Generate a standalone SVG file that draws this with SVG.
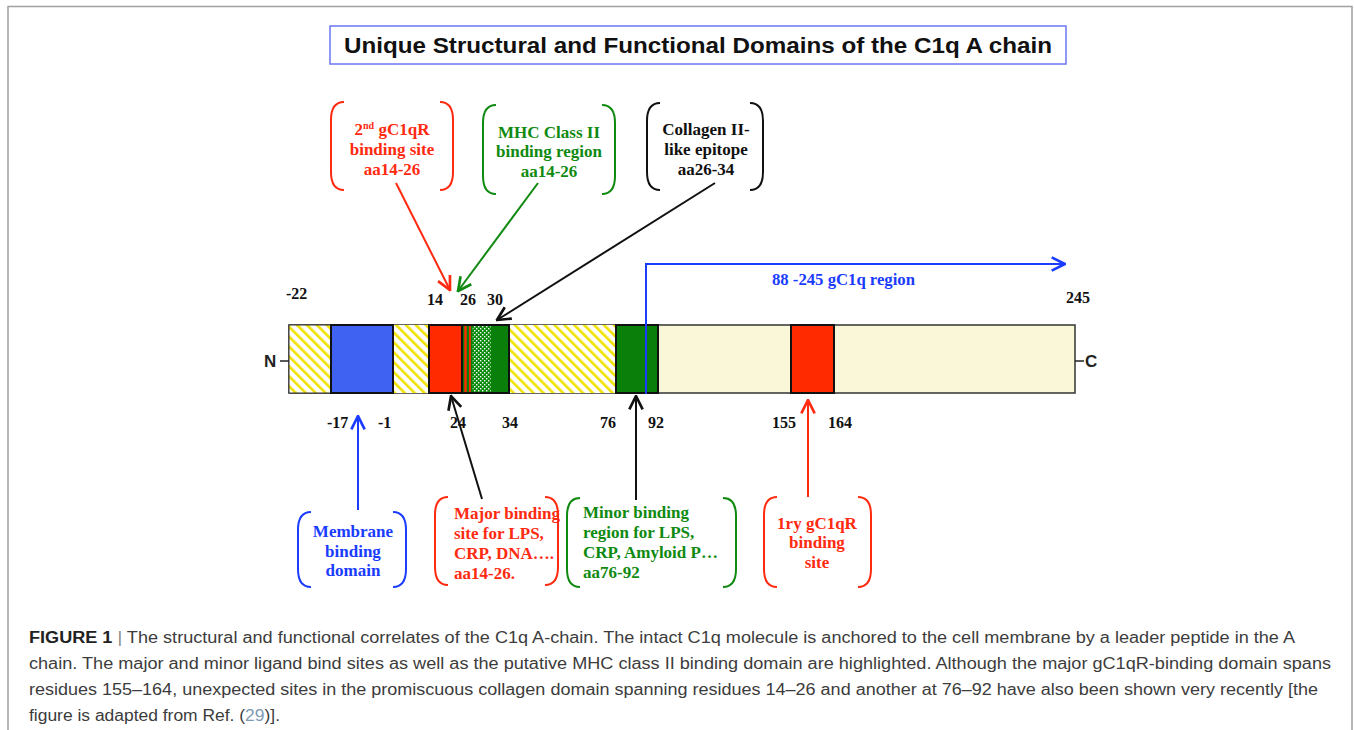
<svg xmlns="http://www.w3.org/2000/svg" width="1354" height="730" viewBox="0 0 1354 730">
<style>
.lbl{font-family:"Liberation Serif","Times New Roman",serif;font-weight:bold;font-size:17px}
.num{font-family:"Liberation Serif","Times New Roman",serif;font-weight:bold;font-size:16px;fill:#111}
.brk{fill:none;stroke-width:2}
.seg{stroke:#111;stroke-width:2}
.cap{font-family:"Liberation Sans",Arial,sans-serif;font-size:16px;fill:#3c3c3c}
.conn{fill:none;stroke-width:2}
</style>
<defs>
<pattern id="hatch" patternUnits="userSpaceOnUse" width="7" height="7" patternTransform="rotate(-45)">
<rect width="7" height="7" fill="#ffffff"/>
<rect width="2.6" height="7" fill="#f2e200"/>
</pattern>
<pattern id="dots" patternUnits="userSpaceOnUse" width="4" height="4">
<rect width="4" height="4" fill="#0a8a0a"/>
<rect x="0" y="0" width="1.4" height="1.4" fill="#ffffff"/>
<rect x="2" y="2" width="1.4" height="1.4" fill="#ffffff"/>
</pattern>
<marker id="mRed" markerUnits="userSpaceOnUse" markerWidth="16" markerHeight="16" viewBox="0 0 12 12" refX="11" refY="6" orient="auto"><path d="M1,1 L11,6 L1,11" fill="none" stroke="#ff2a10" stroke-width="2"/></marker>
<marker id="mGreen" markerUnits="userSpaceOnUse" markerWidth="16" markerHeight="16" viewBox="0 0 12 12" refX="11" refY="6" orient="auto"><path d="M1,1 L11,6 L1,11" fill="none" stroke="#108a10" stroke-width="2"/></marker>
<marker id="mBlack" markerUnits="userSpaceOnUse" markerWidth="16" markerHeight="16" viewBox="0 0 12 12" refX="11" refY="6" orient="auto"><path d="M1,1 L11,6 L1,11" fill="none" stroke="#111" stroke-width="2"/></marker>
<marker id="mBlue" markerUnits="userSpaceOnUse" markerWidth="16" markerHeight="16" viewBox="0 0 12 12" refX="11" refY="6" orient="auto"><path d="M1,1 L11,6 L1,11" fill="none" stroke="#1a3cff" stroke-width="2"/></marker>
</defs>
<rect x="0" y="0" width="1354" height="730" fill="#ffffff"/>
<path d="M8,736 V6.5 H1352 V736" fill="none" stroke="#a0a0a0" stroke-width="1.5"/>

<g id="title">
<rect x="330" y="26" width="736" height="38" fill="#ffffff" stroke="#6b78f0" stroke-width="1.5"/>
<text x="698" y="53" text-anchor="middle" font-family="'Liberation Sans',Arial,sans-serif" font-weight="bold" font-size="22" fill="#111" textLength="708" lengthAdjust="spacingAndGlyphs">Unique Structural and Functional Domains of the C1q A chain</text>
</g>

<g id="chain">
<rect x="289" y="325" width="786" height="68" fill="#f9f7d8" stroke="#333" stroke-width="1.5"/>
<rect x="289" y="325" width="42" height="68" fill="url(#hatch)" stroke="#333" stroke-width="1"/>
<rect x="392" y="325" width="37" height="68" fill="url(#hatch)"/>
<rect x="509" y="325" width="107" height="68" fill="url(#hatch)"/>
<rect class="seg" x="331" y="325" width="62" height="68" fill="#3f62f2"/>
<rect class="seg" x="429" y="325" width="33" height="68" fill="#ff2a00"/>
<rect class="seg" x="462" y="325" width="47" height="68" fill="#0a800a"/>
<rect x="464.3" y="326" width="2.4" height="66" fill="#ff2a00"/>
<rect x="469" y="326" width="1.8" height="66" fill="#ff2a00"/>
<rect x="472.7" y="326" width="18" height="66" fill="url(#dots)"/>
<rect class="seg" x="616" y="325" width="42" height="68" fill="#0a800a"/>
<rect class="seg" x="791" y="325" width="43" height="68" fill="#ff2a00"/>
<line x1="1075" y1="361" x2="1084" y2="361" stroke="#222" stroke-width="1.5"/>
<line x1="280" y1="361" x2="289" y2="361" stroke="#222" stroke-width="1.5"/>
<text x="264" y="367" font-family="'Liberation Sans',Arial,sans-serif" font-weight="bold" font-size="17" fill="#222">N</text>
<text x="1085" y="367" font-family="'Liberation Sans',Arial,sans-serif" font-weight="bold" font-size="17" fill="#222">C</text>
</g>

<g id="positions">
<text class="num" x="286" y="299">-22</text>
<text class="num" x="427" y="305">14</text>
<text class="num" x="460" y="305">26</text>
<text class="num" x="487" y="305">30</text>
<text class="num" x="1066" y="303">245</text>
<text class="num" x="327" y="428">-17</text>
<text class="num" x="378" y="428">-1</text>
<text class="num" x="450" y="428">24</text>
<text class="num" x="502" y="428">34</text>
<text class="num" x="600" y="428">76</text>
<text class="num" x="648" y="428">92</text>
<text class="num" x="772" y="428">155</text>
<text class="num" x="828" y="428">164</text>
</g>

<g id="connectors">
<line class="conn" x1="396" y1="183" x2="450" y2="290" stroke="#ff2a10" marker-end="url(#mRed)"/>
<line class="conn" x1="538" y1="183" x2="458" y2="291" stroke="#108a10" marker-end="url(#mGreen)"/>
<line class="conn" x1="715" y1="183" x2="497" y2="320" stroke="#111" marker-end="url(#mBlack)"/>
<line class="conn" x1="482" y1="499" x2="451" y2="396" stroke="#111" marker-end="url(#mBlack)"/>
<line class="conn" x1="636" y1="500" x2="636" y2="396" stroke="#111" marker-end="url(#mBlack)"/>
<line class="conn" x1="358" y1="510" x2="358" y2="416" stroke="#1a3cff" stroke-width="2.5" marker-end="url(#mBlue)"/>
<line class="conn" x1="808" y1="497" x2="808" y2="400" stroke="#ff2a10" marker-end="url(#mRed)"/>
<path class="conn" d="M646,394 V264 H1065" stroke="#1a3cff" stroke-width="3" marker-end="url(#mBlue)"/>
</g>

<g id="gc1q-region">
<text class="num" x="772" y="285" fill="#1a3cff" style="fill:#1a3cff" textLength="143" lengthAdjust="spacingAndGlyphs">88 -245 gC1q region</text>
</g>

<g id="box-2nd-gc1qr">
<path class="brk" stroke="#ff2a10" d="M344,102 Q331,102 331,120 V172 Q331,190 344,190"/>
<path class="brk" stroke="#ff2a10" d="M440,102 Q453,102 453,120 V172 Q453,190 440,190"/>
<text class="lbl" fill="#ff2a10" text-anchor="middle"><tspan x="392" y="135">2<tspan font-size="10" dy="-6">nd</tspan><tspan dy="6"> gC1qR</tspan></tspan><tspan x="392" y="155">binding site</tspan><tspan x="392" y="175">aa14-26</tspan></text>
</g>

<g id="box-mhc">
<path class="brk" stroke="#108a10" d="M496,105 Q483,105 483,123 V176 Q483,194 496,194"/>
<path class="brk" stroke="#108a10" d="M602,105 Q615,105 615,123 V176 Q615,194 602,194"/>
<text class="lbl" fill="#108a10" text-anchor="middle"><tspan x="549" y="138">MHC Class II</tspan><tspan x="549" y="157">binding region</tspan><tspan x="549" y="177">aa14-26</tspan></text>
</g>

<g id="box-collagen">
<path class="brk" stroke="#111" d="M660,103 Q647,103 647,121 V172 Q647,190 660,190"/>
<path class="brk" stroke="#111" d="M750,103 Q763,103 763,121 V172 Q763,190 750,190"/>
<text class="lbl" fill="#111" text-anchor="middle"><tspan x="706" y="135">Collagen II-</tspan><tspan x="706" y="155">like epitope</tspan><tspan x="706" y="175">aa26-34</tspan></text>
</g>

<g id="box-membrane">
<path class="brk" stroke="#1a3cff" d="M311,512 Q298,512 298,530 V569 Q298,587 311,587"/>
<path class="brk" stroke="#1a3cff" d="M393,512 Q406,512 406,530 V569 Q406,587 393,587"/>
<text class="lbl" fill="#1a3cff" text-anchor="middle"><tspan x="353" y="537">Membrane</tspan><tspan x="353" y="557">binding</tspan><tspan x="353" y="576">domain</tspan></text>
</g>

<g id="box-major">
<path class="brk" stroke="#ff2a10" d="M448,497 Q435,497 435,515 V567 Q435,585 448,585"/>
<path class="brk" stroke="#ff2a10" d="M545,497 Q558,497 558,515 V567 Q558,585 545,585"/>
<text class="lbl" fill="#ff2a10"><tspan x="454" y="519">Major binding</tspan><tspan x="454" y="539">site for LPS,</tspan><tspan x="454" y="559">CRP, DNA….</tspan><tspan x="454" y="579">aa14-26.</tspan></text>
</g>

<g id="box-minor">
<path class="brk" stroke="#108a10" d="M580,498 Q567,498 567,516 V569 Q567,587 580,587"/>
<path class="brk" stroke="#108a10" d="M723,498 Q736,498 736,516 V569 Q736,587 723,587"/>
<text class="lbl" fill="#108a10"><tspan x="583" y="518">Minor binding</tspan><tspan x="583" y="538">region for LPS,</tspan><tspan x="583" y="558">CRP, Amyloid P…</tspan><tspan x="583" y="578">aa76-92</tspan></text>
</g>

<g id="box-1ry-gc1qr">
<path class="brk" stroke="#ff2a10" d="M777,497 Q764,497 764,515 V569 Q764,587 777,587"/>
<path class="brk" stroke="#ff2a10" d="M858,497 Q871,497 871,515 V569 Q871,587 858,587"/>
<text class="lbl" fill="#ff2a10" text-anchor="middle"><tspan x="817" y="529">1ry gC1qR</tspan><tspan x="817" y="548">binding</tspan><tspan x="817" y="568">site</tspan></text>
</g>

<g id="caption">
<text class="cap" x="29" y="643" textLength="1266" lengthAdjust="spacingAndGlyphs"><tspan font-weight="bold" fill="#222">FIGURE 1</tspan><tspan fill="#888"> | </tspan>The structural and functional correlates of the C1q A-chain. The intact C1q molecule is anchored to the cell membrane by a leader peptide in the A</text>
<text class="cap" x="29" y="669" textLength="1302" lengthAdjust="spacingAndGlyphs">chain. The major and minor ligand bind sites as well as the putative MHC class II binding domain are highlighted. Although the major gC1qR-binding domain spans</text>
<text class="cap" x="29" y="695" textLength="1289" lengthAdjust="spacingAndGlyphs">residues 155–164, unexpected sites in the promiscuous collagen domain spanning residues 14–26 and another at 76–92 have also been shown very recently [the</text>
<text class="cap" x="29" y="721" textLength="251" lengthAdjust="spacingAndGlyphs">figure is adapted from Ref. (<tspan fill="#7f9bb3">29</tspan>)].</text>
</g>
</svg>
